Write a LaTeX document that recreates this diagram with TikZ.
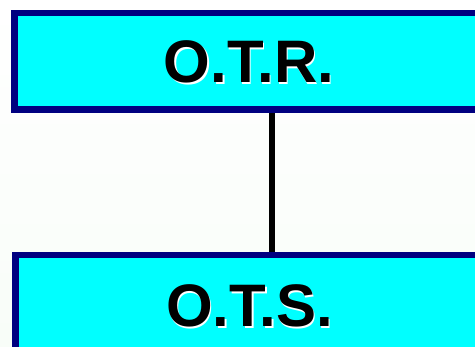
\documentclass[tikz,border=0pt]{standalone}
\usepackage{fontspec}
\setmainfont{Liberation Sans}
\definecolor{navyb}{RGB}{0,0,128}
\definecolor{cyanf}{RGB}{0,255,255}
\definecolor{bgbot}{RGB}{248,253,248}
\tikzset{
  orgbox/.style={draw=navyb, fill=cyanf, line width=6.5pt},
  conn/.style={draw=black, line width=6pt},
  lbl/.style={font=\fontsize{60}{64}\selectfont\bfseries, inner sep=0pt, anchor=base},
}
\begin{document}
\begin{tikzpicture}[x=1pt,y=1pt]
\useasboundingbox (0,0) rectangle (475,347);
\clip (0,0) rectangle (475,347);
\shade[top color=white, bottom color=bgbot] (0,0) rectangle (475,347);
\coordinate (c1) at (272,237.5);
\coordinate (c2) at (272,91.7);
\draw[conn] (c1) -- (c2);
\node[orgbox, minimum width=470pt, minimum height=96.5pt, anchor=north west] (otr) at (11,337) {};
\node[orgbox, minimum width=470pt, minimum height=120pt, anchor=north west] (ots) at (12,95) {};
\node[lbl, text=white] at (250.5,262.5) {O.T.R.};
\node[lbl] (tr) at (249,264) {O.T.R.};
\node[lbl, text=white] at (251,18.5) {O.T.S.};
\node[lbl] (ts) at (249.5,20) {O.T.S.};
\end{tikzpicture}
\end{document}
